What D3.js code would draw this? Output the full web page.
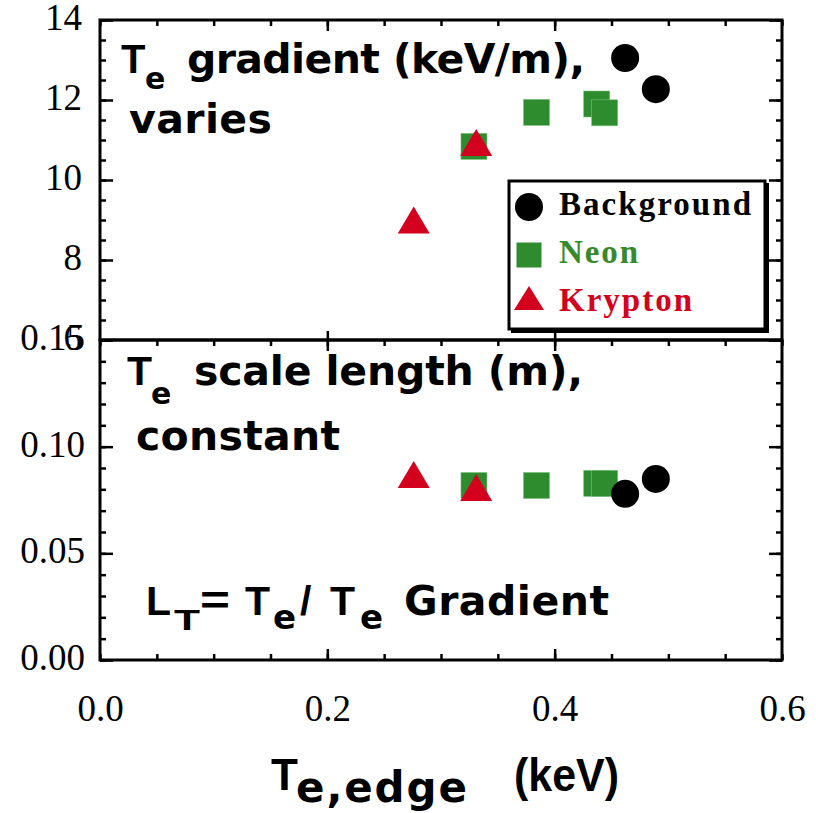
<!DOCTYPE html>
<html>
<head>
<meta charset="utf-8">
<script src="https://cdn.jsdelivr.net/npm/d3@7"></script>
<style>
  html, body { margin: 0; padding: 0; background: #fff; }
  svg { display: block; }
</style>
</head>
<body>
<svg id="chart" width="816" height="813"></svg>
<script>
// Edge electron temperature (keV) for each discharge group
const backgroundX = [0.462, 0.489];
const neonX = [0.329, 0.384, 0.437, 0.444];
const kryptonX = [0.276, 0.331];

// Te gradient (keV/m)
const backgroundGrad = [13.05, 12.27];
const neonGrad = [10.84, 11.69, 11.90, 11.68];
const kryptonGrad = [9.00, 10.94];

// Te scale length (m)
const backgroundLT = [0.0779, 0.0849];
const neonLT = [0.0818, 0.0818, 0.0828, 0.0828];
const kryptonLT = [0.0870, 0.0809];

// Axis tick labels
const xTicks = [0.0, 0.2, 0.4, 0.6];
const gradTicks = [6, 8, 10, 12, 14];
const ltTicks = [0.00, 0.05, 0.10, 0.15];

const seriesNames = ["Background", "Neon", "Krypton"];

const GREEN = "#2e8c2e";
const RED = "#d3001e";
const SERIF = "'Liberation Serif', 'Times New Roman', serif";
const SANS = "'Liberation Sans', Arial, Helvetica, sans-serif";
const WIDE = "'DejaVu Sans', Verdana, sans-serif";

const svg = d3.select("#chart");

const x = d3.scaleLinear().domain([0, 0.6]).range([100, 782]);
const yTop = d3.scaleLinear().domain([6, 14]).range([340, 20]);
const yBot = d3.scaleLinear().domain([0, 0.15]).range([660, 340]);

// ---- tick marks (all pointing into the panels) ----
function ticks(axis, tx, ty, size, values) {
  svg.append("g")
    .attr("transform", `translate(${tx},${ty})`)
    .call(axis.tickValues(values).tickSize(size).tickFormat(""))
    .call(g => g.select(".domain").remove())
    .selectAll("line")
    .attr("stroke", "#000")
    .attr("stroke-width", 2.5);
}

const xMinor = d3.range(0, 13).map(i => i * 0.05);
const xMajor = [0.2, 0.4];
const gradMinor = d3.range(0, 17).map(i => 6 + i * 0.5);
const ltMinor = d3.range(0, 16).map(i => i * 0.01);

// top panel
ticks(d3.axisRight(yTop), 100, 0, 6, gradMinor);
ticks(d3.axisRight(yTop), 100, 0, 13, gradTicks);
ticks(d3.axisLeft(yTop), 782, 0, 6, gradMinor);
ticks(d3.axisLeft(yTop), 782, 0, 13, gradTicks);
ticks(d3.axisBottom(x), 0, 20, 6, xMinor);
ticks(d3.axisBottom(x), 0, 20, 11, xMajor);
ticks(d3.axisTop(x), 0, 340, 9, xMajor);

// bottom panel
ticks(d3.axisRight(yBot), 100, 0, 6, ltMinor);
ticks(d3.axisRight(yBot), 100, 0, 13, ltTicks);
ticks(d3.axisLeft(yBot), 782, 0, 6, ltMinor);
ticks(d3.axisLeft(yBot), 782, 0, 13, ltTicks);
ticks(d3.axisBottom(x), 0, 340, 6, xMinor);
ticks(d3.axisBottom(x), 0, 340, 11, xMajor);
ticks(d3.axisTop(x), 0, 660, 6, xMinor);
ticks(d3.axisTop(x), 0, 660, 11, xMajor);

// ---- tick labels ----
function labels(axis, tx, ty, values, fmt, dy) {
  svg.append("g")
    .attr("transform", `translate(${tx},${ty})`)
    .call(axis.tickValues(values).tickSize(0).tickFormat(fmt))
    .call(g => g.select(".domain").remove())
    .selectAll("text")
    .attr("font-family", SERIF)
    .attr("font-size", 37)
    .attr("fill", "#000")
    .attr("dy", dy);
}
labels(d3.axisLeft(yTop).tickPadding(18), 100, 0, gradTicks, d3.format("d"), "0.26em");
labels(d3.axisLeft(yBot).tickPadding(15), 100, 0, ltTicks, d3.format(".2f"), "0.26em");
labels(d3.axisBottom(x).tickPadding(35), 0, 660, xTicks, d3.format(".1f"), "0.71em");

// ---- panel frames ----
svg.append("rect").attr("x", 100).attr("y", 20).attr("width", 682).attr("height", 320)
  .attr("fill", "none").attr("stroke", "#000").attr("stroke-width", 3);
svg.append("rect").attr("x", 100).attr("y", 340).attr("width", 682).attr("height", 320)
  .attr("fill", "none").attr("stroke", "#000").attr("stroke-width", 3);

// ---- markers ----
const SQ = 26, CR = 14, TW = 32, TH = 27;
const triPath = `M0,${-TH / 2}L${TW / 2},${TH / 2}L${-TW / 2},${TH / 2}Z`;

function drawSeries(yScale, neY, krY, bgY) {
  const g = svg.append("g");
  g.selectAll("rect.neon").data(d3.zip(neonX, neY)).join("rect")
    .attr("class", "neon")
    .attr("x", d => x(d[0]) - SQ / 2).attr("y", d => yScale(d[1]) - SQ / 2)
    .attr("width", SQ).attr("height", SQ)
    .attr("fill", GREEN).attr("stroke", "#7fbf7f").attr("stroke-width", 0.6);
  g.selectAll("path.kr").data(d3.zip(kryptonX, krY)).join("path")
    .attr("class", "kr")
    .attr("d", triPath)
    .attr("transform", d => `translate(${x(d[0])},${yScale(d[1])})`)
    .attr("fill", RED);
  g.selectAll("circle.bg").data(d3.zip(backgroundX, bgY)).join("circle")
    .attr("class", "bg")
    .attr("cx", d => x(d[0])).attr("cy", d => yScale(d[1])).attr("r", CR)
    .attr("fill", "#000");
}
drawSeries(yTop, neonGrad, kryptonGrad, backgroundGrad);
drawSeries(yBot, neonLT, kryptonLT, backgroundLT);

// ---- panel annotations ----
function txt(s, tx, ty, size, len, opts = {}) {
  const t = svg.append("text")
    .attr("x", tx).attr("y", ty)
    .attr("font-family", opts.family || WIDE)
    .attr("font-weight", "bold")
    .attr("font-size", size)
    .attr("fill", opts.fill || "#000")
    .text(s);
  if (len) t.attr("textLength", len).attr("lengthAdjust", opts.adjust || "spacing");
  return t;
}

txt("T", 121, 73, 40, null, { family: SANS });
txt("e", 145, 89, 30);
txt("gradient (keV/m),", 187, 73, 41, 398);
txt("varies", 129, 133, 41, 143);

txt("T", 127, 385, 41, null, { family: SANS });
txt("e", 151, 404, 30);
txt("scale length (m),", 194, 385, 41, 389);
txt("constant", 136, 450, 41, 204);

// L_T = Te / Te Gradient
txt("L", 146, 615, 41, null, { family: SANS });
txt("T", 174, 630, 30, 26, { family: SANS, adjust: "spacingAndGlyphs" });
txt("=", 200, 614, 41, 30, { family: SANS, adjust: "spacingAndGlyphs" });
txt("T", 245, 615, 41, null, { family: SANS });
txt("e", 273, 629, 34);
txt("/", 300, 615, 41, null, { family: SANS });
txt("T", 330, 615, 41, null, { family: SANS });
txt("e", 360, 629, 34);
txt("Gradient", 404, 615, 41, 205);

// ---- x-axis title ----
txt("T", 271, 790, 44, null, { family: SANS });
txt("e,edge", 296, 802, 42, 171);
txt("(keV)", 514, 791, 47, 105, { family: SANS, adjust: "spacingAndGlyphs" });

// ---- legend ----
const lg = svg.append("g");
lg.append("rect").attr("x", 511).attr("y", 183).attr("width", 258).attr("height", 150).attr("fill", "#000");
lg.append("rect").attr("x", 509).attr("y", 181).attr("width", 256).attr("height", 148)
  .attr("fill", "#fff").attr("stroke", "#000").attr("stroke-width", 3);

const legendRows = [
  { name: seriesNames[0], color: "#000", ty: 207, base: 215, len: 192 },
  { name: seriesNames[1], color: "#368a2b", ty: 255, base: 263, len: 79 },
  { name: seriesNames[2], color: RED, ty: 298, base: 311, len: 133 }
];
lg.append("circle").attr("cx", 529).attr("cy", legendRows[0].ty).attr("r", CR).attr("fill", "#000");
lg.append("rect").attr("x", 529 - 12.5).attr("y", legendRows[1].ty - 12.5).attr("width", 25).attr("height", 25).attr("fill", GREEN);
lg.append("path").attr("d", `M0,-12L15,12L-15,12Z`).attr("transform", `translate(529,${legendRows[2].ty})`).attr("fill", RED);

legendRows.forEach(r => {
  lg.append("text")
    .attr("x", 559).attr("y", r.base)
    .attr("font-family", SERIF).attr("font-weight", "bold").attr("font-size", 33)
    .attr("fill", r.color)
    .attr("textLength", r.len).attr("lengthAdjust", "spacing")
    .text(r.name);
});
</script>
</body>
</html>
